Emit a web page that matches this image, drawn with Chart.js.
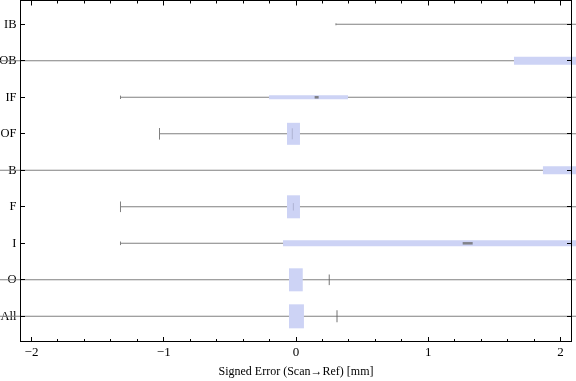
<!DOCTYPE html>
<html><head><meta charset="utf-8">
<script src="https://cdn.jsdelivr.net/npm/chart.js@4/dist/chart.umd.min.js"></script>
<style>html,body{margin:0;padding:0;background:#fff}#wrap{width:576px;height:381px;position:relative}</style>
</head><body><div id="wrap"><canvas id="c"></canvas></div>
<script>
// ---- data (top row first) ----
const categories  = ['IB','OB','IF','OF','B','F','I','O','All'];
const whiskerLow  = [0.302, -2.70, -1.327, -1.032, -2.60, -1.327, -1.327, -2.50, -2.65];
const whiskerHigh = [2.90, 2.80, 2.70, 2.60, 2.90, 2.55, 2.95, 2.50, 2.85];
const boxLow      = [2.30, 1.648, -0.204, -0.068, 1.867, -0.068, -0.098, -0.053, -0.053];
const boxHigh     = [2.80, 2.55, 0.393, 0.030, 2.45, 0.030, 2.35, 0.051, 0.060];
const markValues  = [null, null, 0.156, -0.028, null, -0.020, 1.298, 0.252, 0.310];
const xTickValues = [-2, -1, 0, 1, 2];
const xMinorStep  = 0.2;
const xTitle = 'Signed Error (Scan\u2192Ref) [mm]';

// ---- styles ----
const boxColor = 'rgb(205,211,245)';
const lineColor = '#808080';
const boxThickness = [4, 8, 4, 22, 8, 23, 6, 23, 24];
const capHalf = [1, 1, 1.7, 5.8, 1, 5.3, 1.8, 1, 1];
const markStyle = [null, null,
  {rot:0, r:2, w:2.5, c:'rgba(110,110,110,0.85)'},
  {rot:90, r:5.5, w:1, c:'rgba(120,120,150,0.35)'},
  null,
  {rot:90, r:3.7, w:1, c:'rgba(120,120,150,0.35)'},
  {rot:0, r:5, w:2.5, c:'rgba(110,110,110,0.8)'},
  {rot:90, r:5.3, w:1.4, c:'rgba(100,100,100,0.65)'},
  {rot:90, r:6, w:1.4, c:'rgba(100,100,100,0.65)'}];
const xFont = {family:'Liberation Serif', size:13};
const yFont = {family:'Liberation Serif', size:12.5};

const N = categories.length;
const pos = i => N - i;

const datasets = [];
datasets.push({
  type:'bar', indexAxis:'y', order:3, clip:false, grouped:false,
  data: categories.map((c,i)=>({x:[whiskerLow[i], whiskerHigh[i]], y:pos(i)})),
  backgroundColor: lineColor, barThickness:1, borderWidth:0, inflateAmount:0
});
categories.forEach((c,i)=>{
  datasets.push({
    type:'bar', indexAxis:'y', order:2, clip:false, grouped:false,
    data:[{x:[boxLow[i], boxHigh[i]], y:pos(i)}],
    backgroundColor: boxColor, barThickness: boxThickness[i], borderWidth:0, inflateAmount:0
  });
});
datasets.push({
  type:'scatter', order:1, clip:false,
  data: categories.map((c,i)=>({x:whiskerLow[i], y:pos(i)})),
  pointStyle:'line', pointRotation:90,
  pointRadius: ctx => capHalf[ctx.dataIndex],
  pointBorderColor: lineColor, pointBorderWidth:1, pointBackgroundColor: lineColor
});
const markIdx = categories.map((c,i)=>i).filter(i=>markValues[i]!==null);
datasets.push({
  type:'scatter', order:0, clip:false,
  data: markIdx.map(i=>({x:markValues[i], y:pos(i)})),
  pointStyle:'line',
  pointRotation: ctx => markStyle[markIdx[ctx.dataIndex]].rot,
  pointRadius: ctx => markStyle[markIdx[ctx.dataIndex]].r,
  pointBorderWidth: ctx => markStyle[markIdx[ctx.dataIndex]].w,
  pointBorderColor: ctx => markStyle[markIdx[ctx.dataIndex]].c,
  pointBackgroundColor: ctx => markStyle[markIdx[ctx.dataIndex]].c
});

const framePlugin = {
  id:'frame',
  afterDatasetsDraw(chart){
    const {ctx, chartArea:a, scales:{x, y}} = chart;
    ctx.save();
    ctx.strokeStyle = '#000'; ctx.lineWidth = 1;
    ctx.strokeRect(a.left, a.top, a.right - a.left, a.bottom - a.top);
    ctx.beginPath();
    const nMin = Math.round(xTickValues[0] / xMinorStep), nMax = Math.round(xTickValues[xTickValues.length-1] / xMinorStep);
    for (let k = nMin; k <= nMax; k++) {
      const v = k * xMinorStep;
      const major = xTickValues.some(t => Math.abs(t - v) < 1e-9);
      const len = major ? 4.5 : 2.5;
      const px = Math.round(x.getPixelForValue(v) - 0.5) + 0.5;
      ctx.moveTo(px, a.bottom); ctx.lineTo(px, a.bottom - len);
      ctx.moveTo(px, a.top); ctx.lineTo(px, a.top + len + 0.5);
    }
    categories.forEach((c,i)=>{
      const py = Math.round(y.getPixelForValue(pos(i)) - 0.5) + 0.5;
      ctx.moveTo(a.left, py); ctx.lineTo(a.left + 4.5, py);
      ctx.moveTo(a.right, py); ctx.lineTo(a.right - 4.5, py);
    });
    ctx.stroke();
    ctx.restore();
  }
};

const noPad = s => { s.paddingTop = 0; s.paddingBottom = 0; s.paddingLeft = 0; s.paddingRight = 0; };

new Chart(document.getElementById('c'), {
  type:'bar',
  data:{datasets},
  plugins:[framePlugin],
  options:{
    indexAxis:'y',
    responsive:true, maintainAspectRatio:false, animation:false, events:[],
    layout:{autoPadding:false, padding:{left:0, right:4.5, top:0.5, bottom:0}},
    plugins:{legend:{display:false}, tooltip:{enabled:false}},
    scales:{
      x:{type:'linear', position:'bottom', min:-2.083, max:2.083, offset:false,
        afterBuildTicks: s => { s.ticks = xTickValues.map(v=>({value:v})); },
        afterFit: s => { s.height = 39.5; noPad(s); },
        grid:{display:false, drawTicks:false, offset:false}, border:{display:false},
        ticks:{font:xFont, color:'#000', padding:3, maxRotation:0, autoSkip:false,
          callback: v => v < 0 ? '\u2212' + Math.abs(v) : String(v)},
        title:{display:true, text:xTitle, font:{family:'Liberation Serif', size:12}, color:'#000', padding:{top:0, bottom:2}}
      },
      y:{type:'linear', position:'left', min:0.31, max:9.652, offset:false,
        afterBuildTicks: s => { s.ticks = categories.map((c,i)=>({value:pos(i)})); },
        afterFit: s => { s.width = 20.5; noPad(s); },
        grid:{display:false, drawTicks:false, offset:false}, border:{display:false},
        ticks:{font:yFont, color:'#000', padding:4, autoSkip:false,
          callback: v => categories[N - Math.round(v)]}
      }
    }
  }
});
</script></body></html>
